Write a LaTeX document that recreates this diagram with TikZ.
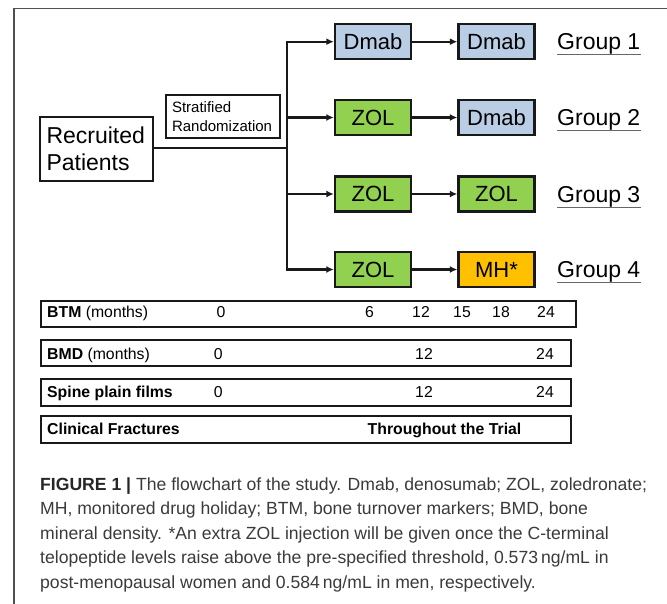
\documentclass[tikz,border=0pt]{standalone}
\usepackage{fontspec}
\setmainfont{Liberation Sans}
\usetikzlibrary{arrows.meta}
\definecolor{dmabfill}{HTML}{B9CDE5}
\definecolor{zolfill}{HTML}{92D050}
\definecolor{mhfill}{HTML}{FFC000}
\definecolor{capgray}{HTML}{3A3A3A}
\definecolor{framegray}{HTML}{505050}
\begin{document}
\begin{tikzpicture}[x=1pt,y=-1pt,
  treat/.style={draw=black!90, line width=2.4pt, minimum width=76pt, minimum height=35pt, inner sep=0pt, font=\fontsize{22}{22}\selectfont},
  dmabbox/.style={treat, fill=dmabfill},
  zolbox/.style={treat, fill=zolfill},
  mhbox/.style={treat, fill=mhfill},
  conn/.style={line width=2.2pt, draw=black!90},
  arr/.style={conn, -{Latex[length=7.5pt,width=7pt]}},
  grp/.style={anchor=base west, inner sep=0pt, font=\fontsize{23}{23}\selectfont},
  uline/.style={draw=black!60, line width=1pt},
  rowbox/.style={draw=black!90, line width=2pt, inner sep=0pt},
  lab/.style={anchor=base west, inner sep=0pt, font=\fontsize{15.8}{15.8}\selectfont},
  num/.style={anchor=base, inner sep=0pt, font=\fontsize{15.8}{15.8}\selectfont},
  captxt/.style={anchor=base west, inner sep=0pt, font=\fontsize{17.6}{17.6}\selectfont, text=capgray}
]
\useasboundingbox (0,0) rectangle (667,604);
% frame
\draw[framegray, line width=1.4pt] (667,8.5) -- (14,8.5) -- (14,604);

% left part
\node[draw=black!90, line width=2.4pt, minimum width=113pt, minimum height=64pt, inner sep=0pt,
      align=left, text width=100pt, font=\fontsize{23}{27.5}\selectfont] (recruit) at (96.5,149) {Recruited\\Patients};
\node[draw=black!90, line width=1.6pt, minimum width=114pt, minimum height=43pt, inner sep=0pt,
      align=left, text width=102pt, font=\fontsize{15}{18.4}\selectfont] (strat) at (223,116.5) {Stratified\\Randomization};

\coordinate (sptop) at (287,41.7);
\coordinate (spbot) at (287,269.5);
\coordinate (spmid) at (287,148);

% treatment boxes
\node[dmabbox] (a1) at (373,41.7) {Dmab};
\node[dmabbox] (b1) at (496.5,41.7) {Dmab};
\node[zolbox]  (a2) at (373,117.5) {ZOL};
\node[dmabbox] (b2) at (496.5,117.5) {Dmab};
\node[zolbox]  (a3) at (373,194) {ZOL};
\node[zolbox]  (b3) at (496.5,194) {ZOL};
\node[zolbox]  (a4) at (373,269.5) {ZOL};
\node[mhbox]   (b4) at (496.5,269.5) {MH*};

\draw[conn] (recruit.east |- spmid) -- (spmid);
\draw[conn, line cap=rect] (sptop) -- (spbot);
\draw[arr] (sptop) -- (a1.west);
\draw[arr] (sptop |- a2.west) -- (a2.west);
\draw[arr] (sptop |- a3.west) -- (a3.west);
\draw[arr] (spbot) -- (a4.west);
\foreach \i in {1,2,3,4} {\draw[arr] (a\i.east) -- (b\i.west);}

% group labels
\foreach \i/\y in {1/41.7,2/117.5,3/194,4/269.5} {
  \node[grp] (g\i) at (557,\y+8.3) {Group \i};
  \draw[uline] ([yshift=-5pt]g\i.base west) -- ([yshift=-5pt]g\i.base east);
}

% timeline boxes
\node[rowbox, minimum width=535pt, minimum height=26.6pt] (btm) at (308.5,314) {};
\node[rowbox, minimum width=530pt, minimum height=26pt] (bmd) at (306,353) {};
\node[rowbox, minimum width=530pt, minimum height=26.6pt] (spine) at (306,392.5) {};
\node[rowbox, minimum width=530pt, minimum height=26.6pt] (clin) at (306,429.3) {};

\node[lab] (btmlab) at (47,317.5) {\textbf{BTM} (months)};
\node[num] (btm0) at (221,317.5) {0};
\node[num] (btm6) at (369.5,317.5) {6};
\node[num] (btm12) at (421,317.5) {12};
\node[num] (btm15) at (462,317.5) {15};
\node[num] (btm18) at (501,317.5) {18};
\node[num] (btm24) at (546,317.5) {24};

\node[lab] (bmdlab) at (47,359) {\textbf{BMD} (months)};
\node[num] (bmd0) at (218.3,359) {0};
\node[num] (bmd12) at (424,359) {12};
\node[num] (bmd24) at (545,359) {24};

\node[lab] (spinelab) at (47,397) {\textbf{Spine plain films}};
\node[num] (spine0) at (218.3,397) {0};
\node[num] (spine12) at (424,397) {12};
\node[num] (spine24) at (545,397) {24};

\node[lab] (clinlab) at (47,434) {\textbf{Clinical Fractures}};
\node[num] (clintxt) at (444.5,434) {\textbf{Throughout the Trial}};

% caption
\node[captxt] (c1) at (40,490) {\textbf{\color{black!85}FIGURE 1 |} The flowchart of the study. Dmab, denosumab; ZOL, zoledronate;};
\node[captxt] (c2) at (40,514.5) {MH, monitored drug holiday; BTM, bone turnover markers; BMD, bone};
\node[captxt] (c3) at (40,539) {mineral density. *An extra ZOL injection will be given once the C-terminal};
\node[captxt] (c4) at (40,563.5) {telopeptide levels raise above the pre-specified threshold, 0.573\,ng/mL in};
\node[captxt] (c5) at (40,588) {post-menopausal women and 0.584\,ng/mL in men, respectively.};
\end{tikzpicture}
\end{document}
